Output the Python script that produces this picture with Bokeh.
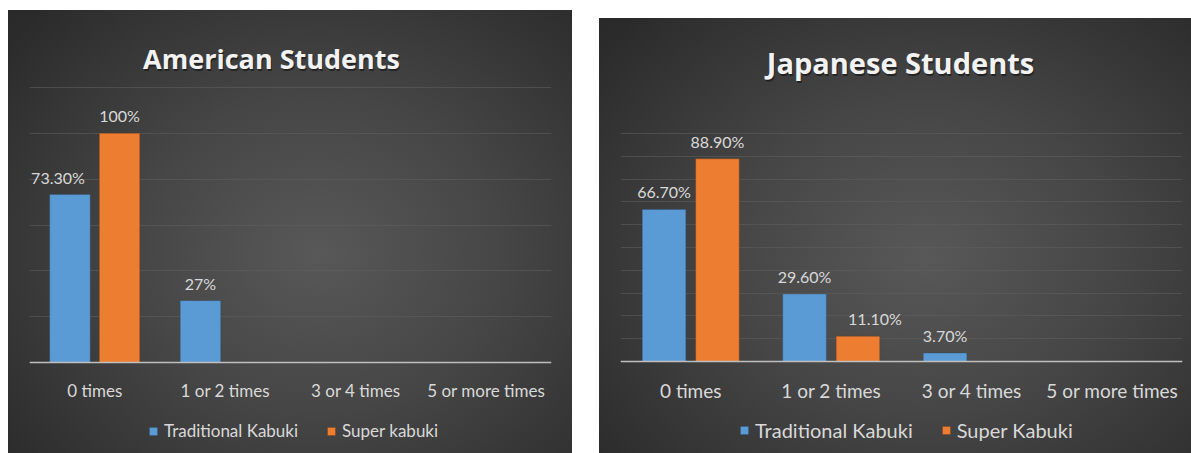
from bokeh.plotting import figure
from bokeh.layouts import row
from bokeh.models import (ColumnDataSource, Legend, LegendItem, FactorRange, FixedTicker,
                          Label, Range1d)
from bokeh.core.properties import value
from bokeh.transform import dodge
from bokeh.embed import file_html
from bokeh.resources import INLINE

categories = ["0 times", "1 or 2 times", "3 or 4 times", "5 or more times"]

us_traditional = [73.3, 27.0, 0, 0]
us_super = [100.0, 0, 0, 0]
us_trad_labels = ["73.30%", "27%", "", ""]
us_super_labels = ["100%", "", "", ""]

jp_traditional = [66.7, 29.6, 3.7, 0]
jp_super = [88.9, 11.1, 0, 0]
jp_trad_labels = ["66.70%", "29.60%", "3.70%", ""]
jp_super_labels = ["88.90%", "11.10%", "", ""]

BLUE = "#5b9bd5"
ORANGE = "#ed7d31"
TXT = "#d9d9d9"
FONT = "Lato"


def panel(title, trad, sup, tl, sl, series_names, grid_max, grid_step, w, h,
          side_border, px_above, px_plot, px_below, tick_fs, leg_fs, title_fs, margin,
          trad_nudge, sup_nudge, title_pos, legend_pos):
    src = ColumnDataSource(dict(cat=categories, trad=trad, sup=sup, tl=tl, sl=sl,
                                tn=trad_nudge, sn=sup_nudge))
    unit = px_plot / grid_max
    y_range = Range1d(-px_below / unit, grid_max + px_above / unit)
    p = figure(x_range=FactorRange(*categories), y_range=y_range, width=w, height=h,
               output_backend="svg", toolbar_location=None)
    p.frame_align = False
    p.min_border_top = 0
    p.min_border_bottom = 0
    p.min_border_left = side_border[0]
    p.min_border_right = side_border[1]
    p.margin = margin
    p.styles = {"background": "radial-gradient(ellipse 72% 78% at 55% 55%, #585858 0%, #464646 45%, #2a2a2a 100%)"}
    p.background_fill_alpha = 0
    p.border_fill_alpha = 0
    p.outline_line_color = None

    tx, ty = title_pos
    p.add_layout(Label(x=tx + 1, y=ty - 2, x_units="screen", y_units="screen", text=title,
                       text_align="center", text_baseline="alphabetic", text_font="Open Sans",
                       text_font_style="bold", text_font_size=f"{title_fs}px",
                       text_color="#000000", text_alpha=0.45))
    p.add_layout(Label(x=tx, y=ty, x_units="screen", y_units="screen", text=title,
                       text_align="center", text_baseline="alphabetic", text_font="Open Sans",
                       text_font_style="bold", text_font_size=f"{title_fs}px",
                       text_color="#f2f2f2"))

    r1 = p.vbar(x=dodge("cat", -0.19, range=p.x_range), top="trad", width=0.31, source=src,
                fill_color=BLUE, line_color="#2f4f6f", line_alpha=0.35, line_width=1)
    r2 = p.vbar(x=dodge("cat", 0.19, range=p.x_range), top="sup", width=0.31, source=src,
                fill_color=ORANGE, line_color="#6f3a17", line_alpha=0.35, line_width=1)

    p.text(x=dodge("cat", -0.19, range=p.x_range), y="trad", text="tl", source=src,
           x_offset="tn", y_offset=-8, text_align="center", text_baseline="bottom",
           text_color=TXT, text_font=value(FONT), text_font_size="16px")
    p.text(x=dodge("cat", 0.19, range=p.x_range), y="sup", text="sl", source=src,
           x_offset="sn", y_offset=-8, text_align="center", text_baseline="bottom",
           text_color=TXT, text_font=value(FONT), text_font_size="16px")

    p.yaxis.visible = False
    p.ygrid.ticker = FixedTicker(ticks=list(range(grid_step, grid_max + 1, grid_step)))
    p.ygrid.grid_line_color = "#5e5e5e"
    p.ygrid.grid_line_alpha = 0.6
    p.xgrid.grid_line_color = None

    ax = p.xaxis[0]
    ax.fixed_location = 0
    ax.axis_line_color = "#bfbfbf"
    ax.axis_line_width = 1.5
    ax.major_tick_line_color = None
    ax.minor_tick_line_color = None
    ax.major_label_text_color = TXT
    ax.major_label_text_font = FONT
    ax.major_label_text_font_size = f"{tick_fs}px"
    ax.major_label_standoff = 11

    legend = Legend(items=[LegendItem(label=series_names[0], renderers=[r1]),
                           LegendItem(label=series_names[1], renderers=[r2])],
                    orientation="horizontal", location=legend_pos,
                    background_fill_alpha=0, border_line_color=None,
                    label_text_color=TXT, label_text_font=FONT,
                    label_text_font_size=f"{leg_fs}px",
                    glyph_width=10, glyph_height=10, label_standoff=6, spacing=28,
                    padding=0, margin=0)
    p.add_layout(legend, "center")
    return p


p1 = panel("American Students", us_traditional, us_super, us_trad_labels, us_super_labels,
           ["Traditional Kabuki", "Super kabuki"], 120, 20, 564, 443,
           (21, 21), 77, 275, 91, 17, 17, 27, (10, 0, 0, 8),
           [-12, 0, 0, 0], [0, 0, 0, 0], (242, 395), (119, 12))
p2 = panel("Japanese Students", jp_traditional, jp_super, jp_trad_labels, jp_super_labels,
           ["Traditional Kabuki", "Super Kabuki"], 100, 10, 592, 435,
           (21, 9), 115, 228, 92, 19, 20, 29, (18, 0, 0, 27),
           [0, 0, 0, 0], [0, 17, 0, 0], (280, 391), (119, 11))

layout = row(p1, p2)
open("out.html", "w").write(file_html(layout, INLINE))
